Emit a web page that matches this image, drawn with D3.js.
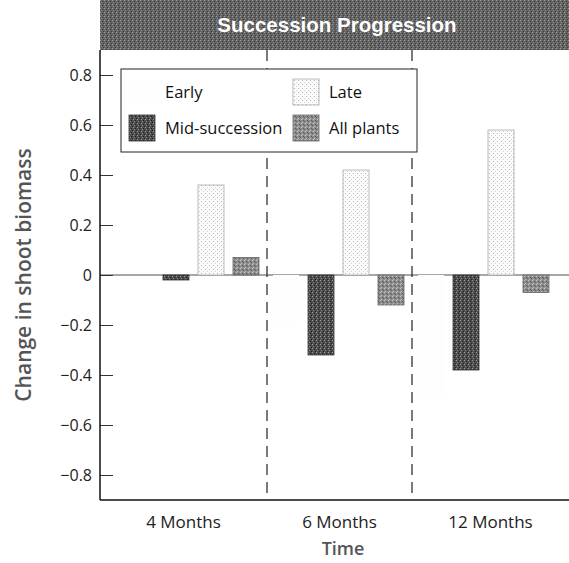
<!DOCTYPE html>
<html>
<head>
<meta charset="utf-8">
<script src="https://cdn.jsdelivr.net/npm/d3@7"></script>
<style>
  body { margin: 0; background: #fff; }
  text { font-family: "Open Sans", sans-serif; }
</style>
</head>
<body>
<svg id="chart" width="569" height="563"></svg>
<script>
// data
var months = ['4 Months', '6 Months', '12 Months'];
var series = ['Early', 'Mid-succession', 'Late', 'All plants'];
var early = [0.0, -0.2, -0.49];
var mid = [-0.02, -0.32, -0.38];
var late = [0.36, 0.42, 0.58];
var allPlants = [0.07, -0.12, -0.07];
var yTicks = [-0.8, -0.6, -0.4, -0.2, 0, 0.2, 0.4, 0.6, 0.8];

var values = [early, mid, late, allPlants];
var rows = [];
months.forEach(function (m, i) {
    series.forEach(function (s, j) {
        rows.push({ month: m, series: s, value: values[j][i] });
    });
});

var svg = d3.select('#chart');
var plotLeft = 100, plotRight = 569, plotTop = 50, plotBottom = 500;

// textures
var defs = svg.append('defs');
function stipple(id, base, dots) {
    var p = defs.append('pattern')
        .attr('id', id)
        .attr('width', 4)
        .attr('height', 4)
        .attr('patternUnits', 'userSpaceOnUse');
    p.append('rect').attr('width', 4).attr('height', 4).attr('fill', base);
    dots.forEach(function (d) {
        p.append('rect')
            .attr('x', d[0]).attr('y', d[1])
            .attr('width', 1).attr('height', 1)
            .attr('fill', d[2]);
    });
}
stipple('pMid', '#4e4e4e', [[0, 0, '#9a9a9a'], [2, 1, '#1e1e1e'], [1, 2, '#8a8a8a'], [3, 3, '#222']]);
stipple('pAll', '#8d8d8d', [[0, 0, '#c8c8c8'], [2, 1, '#555'], [1, 3, '#bbb'], [3, 2, '#606060']]);
stipple('pLate', '#fbfbfb', [[1, 1, '#b0b0b0'], [3, 3, '#d0d0d0']]);
stipple('pTitle', '#646464', [[0, 0, '#9c9c9c'], [2, 1, '#3a3a3a'], [1, 2, '#8a8a8a'], [3, 3, '#404040']]);

// the Early series prints almost white in the reference
var fills = {
    'Early': '#fefefe',
    'Mid-succession': 'url(#pMid)',
    'Late': 'url(#pLate)',
    'All plants': 'url(#pAll)'
};
var strokes = {
    'Early': 'none',
    'Mid-succession': '#333',
    'Late': '#aaa',
    'All plants': '#666'
};

var x0 = d3.scaleBand().domain(months).range([122, 557]);
var x1 = d3.scaleBand().domain(series).range([6, 137]).paddingInner(0.257);
var y = d3.scaleLinear().domain([-0.9, 0.9]).range([plotBottom, plotTop]);

// title bar
svg.append('rect')
    .attr('x', plotLeft).attr('y', 0)
    .attr('width', plotRight - plotLeft).attr('height', plotTop)
    .attr('fill', 'url(#pTitle)');
svg.append('text')
    .attr('x', 337).attr('y', 32)
    .attr('text-anchor', 'middle')
    .style('font-family', '"Liberation Sans Narrow", sans-serif')
    .style('font-weight', 'bold')
    .style('font-size', '20.5px')
    .attr('fill', '#fff')
    .text('Succession Progression');

// zero line
svg.append('line')
    .attr('x1', plotLeft).attr('x2', plotRight)
    .attr('y1', y(0)).attr('y2', y(0))
    .attr('stroke', '#8a8a8a')
    .attr('stroke-width', 1.5);

// dividers between months
svg.selectAll('.divider')
    .data(months.slice(1))
    .enter()
    .append('line')
    .attr('class', 'divider')
    .attr('x1', function (d) { return x0(d); })
    .attr('x2', function (d) { return x0(d); })
    .attr('y1', plotTop).attr('y2', plotBottom)
    .attr('stroke', '#222')
    .attr('stroke-width', 1.2)
    .attr('stroke-dasharray', '11,7');

// bars
svg.selectAll('.bar')
    .data(rows)
    .enter()
    .append('rect')
    .attr('class', 'bar')
    .attr('x', function (d) { return x0(d.month) + x1(d.series); })
    .attr('width', x1.bandwidth())
    .attr('y', function (d) { return y(Math.max(0, d.value)); })
    .attr('height', function (d) { return Math.abs(y(d.value) - y(0)); })
    .attr('fill', function (d) { return fills[d.series]; })
    .attr('stroke', function (d) { return strokes[d.series]; })
    .attr('stroke-width', 0.8);

// y axis
var yAxis = d3.axisRight(y)
    .tickValues(yTicks)
    .tickSize(13)
    .tickFormat(function (d) { return d === 0 ? '0' : d3.format('.1f')(d).replace('-', '\u2212'); });
var ya = svg.append('g')
    .attr('transform', 'translate(' + plotLeft + ',0)')
    .call(yAxis);
ya.select('.domain').remove();
ya.selectAll('.tick line').attr('stroke', '#333');
ya.selectAll('.tick text')
    .attr('x', -8)
    .attr('text-anchor', 'end')
    .style('font-size', '16px')
    .attr('fill', '#222');

svg.append('line')
    .attr('x1', plotLeft).attr('x2', plotLeft)
    .attr('y1', plotTop).attr('y2', plotBottom)
    .attr('stroke', '#111').attr('stroke-width', 1.5);
svg.append('line')
    .attr('x1', plotLeft).attr('x2', plotRight)
    .attr('y1', plotBottom).attr('y2', plotBottom)
    .attr('stroke', '#111').attr('stroke-width', 1.5);

// month labels, centred between the dividers
svg.selectAll('.mlabel')
    .data(months)
    .enter()
    .append('text')
    .attr('class', 'mlabel')
    .attr('x', function (d, i) {
        var a = i === 0 ? plotLeft : x0(d);
        var b = i === months.length - 1 ? plotRight : x0(d) + x0.step();
        return (a + b) / 2;
    })
    .attr('y', 528)
    .attr('text-anchor', 'middle')
    .style('font-size', '17px')
    .attr('fill', '#222')
    .text(function (d) { return d; });

// axis titles
svg.append('text')
    .attr('x', 343).attr('y', 555)
    .attr('text-anchor', 'middle')
    .style('font-size', '18px')
    .style('font-weight', 600)
    .attr('fill', '#555')
    .text('Time');
svg.append('text')
    .attr('transform', 'translate(31,275) rotate(-90)')
    .attr('text-anchor', 'middle')
    .style('font-size', '21px')
    .style('font-weight', 600)
    .attr('fill', '#555')
    .text('Change in shoot biomass');

// legend
var legend = svg.append('g');
legend.append('rect')
    .attr('x', 121).attr('y', 69)
    .attr('width', 296).attr('height', 83)
    .attr('fill', '#fff')
    .attr('stroke', '#222')
    .attr('stroke-width', 1);
var item = legend.selectAll('.item')
    .data(series)
    .enter()
    .append('g')
    .attr('class', 'item')
    .attr('transform', function (d) {
        // Early, Mid in column 1; Late, All plants in column 2
        var col = (d === 'Early' || d === 'Mid-succession') ? 0 : 1;
        var row = (d === 'Early' || d === 'Late') ? 0 : 1;
        return 'translate(' + (129 + col * 164) + ',' + (79 + row * 36) + ')';
    });
item.append('rect')
    .attr('width', 26).attr('height', 26)
    .attr('fill', function (d) { return fills[d]; })
    .attr('stroke', function (d) { return strokes[d]; })
    .attr('stroke-width', 0.8);
item.append('text')
    .attr('x', 36).attr('y', 19)
    .style('font-size', '16.5px')
    .attr('fill', '#111')
    .text(function (d) { return d; });
</script>
</body>
</html>
